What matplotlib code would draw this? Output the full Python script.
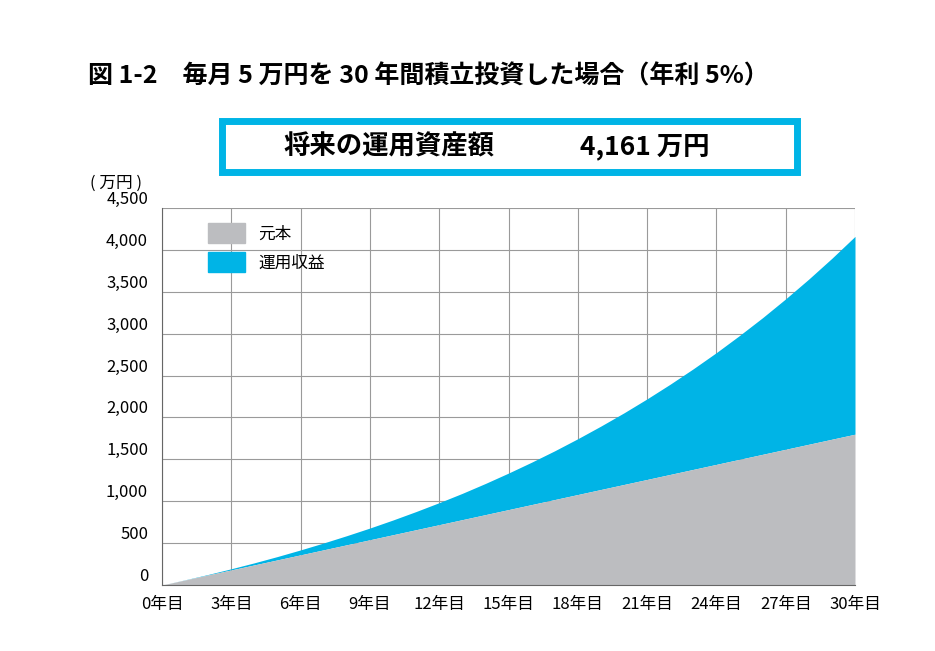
import matplotlib
matplotlib.use("Agg")
import matplotlib.pyplot as plt
from matplotlib.patches import Rectangle, Patch

plt.rcParams["font.family"] = "Noto Sans CJK JP"

years = list(range(0, 31))
principal = [0, 60, 120, 180, 240, 300, 360, 420, 480, 540, 600, 660, 720, 780, 840, 900,
             960, 1020, 1080, 1140, 1200, 1260, 1320, 1380, 1440, 1500, 1560, 1620, 1680, 1740, 1800]
total = [0, 62, 126, 194, 265, 340, 419, 502, 589, 680, 776, 877, 983, 1094, 1212, 1336,
         1466, 1602, 1746, 1897, 2055, 2222, 2397, 2581, 2774, 2978, 3191, 3416, 3652, 3900, 4161]
xtick_labels = [f"{y}年目" for y in range(0, 31, 3)]
ytick_labels = ["0", "500", "1,000", "1,500", "2,000", "2,500", "3,000", "3,500", "4,000", "4,500"]

fig = plt.figure(figsize=(9.35, 6.51), dpi=100)
ax = fig.add_axes([162/935, 1-585/651, (855-162)/935, (585-208)/651])

cyan = "#00b4e6"
gray = "#bcbdc0"
ax.fill_between(years, principal, total, color=cyan, lw=0, zorder=2)
ax.fill_between(years, 0, principal, color=gray, lw=0, zorder=2)
ax.set_xlim(0, 30)
ax.set_ylim(0, 4500)
ax.set_xticks(range(0, 31, 3))
ax.set_xticklabels(xtick_labels, fontsize=12)
ax.set_yticks(range(0, 4501, 500))
ax.set_yticklabels(ytick_labels, fontsize=12)
ax.grid(True, color="#9a9a9a", lw=0.8, zorder=1)
ax.set_axisbelow(True)
for s in ["top", "right"]:
    ax.spines[s].set_visible(False)
for s in ["left", "bottom"]:
    ax.spines[s].set_color("#666666")
ax.tick_params(axis="y", length=0, pad=10)
ax.tick_params(axis="x", length=0, pad=8)
for lbl in ax.get_yticklabels():
    lbl.set_va("bottom")

ax.legend(handles=[Patch(color=gray, label="元本"), Patch(color=cyan, label="運用収益")],
          loc="upper left", bbox_to_anchor=(0.045, 1.0), frameon=False, fontsize=12,
          handlelength=2.2, handleheight=1.5, labelspacing=0.5)

fig.text(88/935, 1-76/651, "図 1-2　毎月 5 万円を 30 年間積立投資した場合（年利 5%）",
         fontsize=18, fontweight="bold", va="center", ha="left")
fig.patches.append(Rectangle((222/935, 1-172/651), (797-222)/935, (172-121)/651,
                             transform=fig.transFigure, fill=False, ec=cyan, lw=5))
fig.text(283/935, 1-147/651, "将来の運用資産額", fontsize=19, fontweight="bold", va="center")
fig.text(580/935, 1-147/651, "4,161 万円", fontsize=19, fontweight="bold", va="center")
fig.text(90/935, 1-183/651, "( 万円 )", fontsize=12, va="center")

fig.savefig("out.png", dpi=100, facecolor="white")
